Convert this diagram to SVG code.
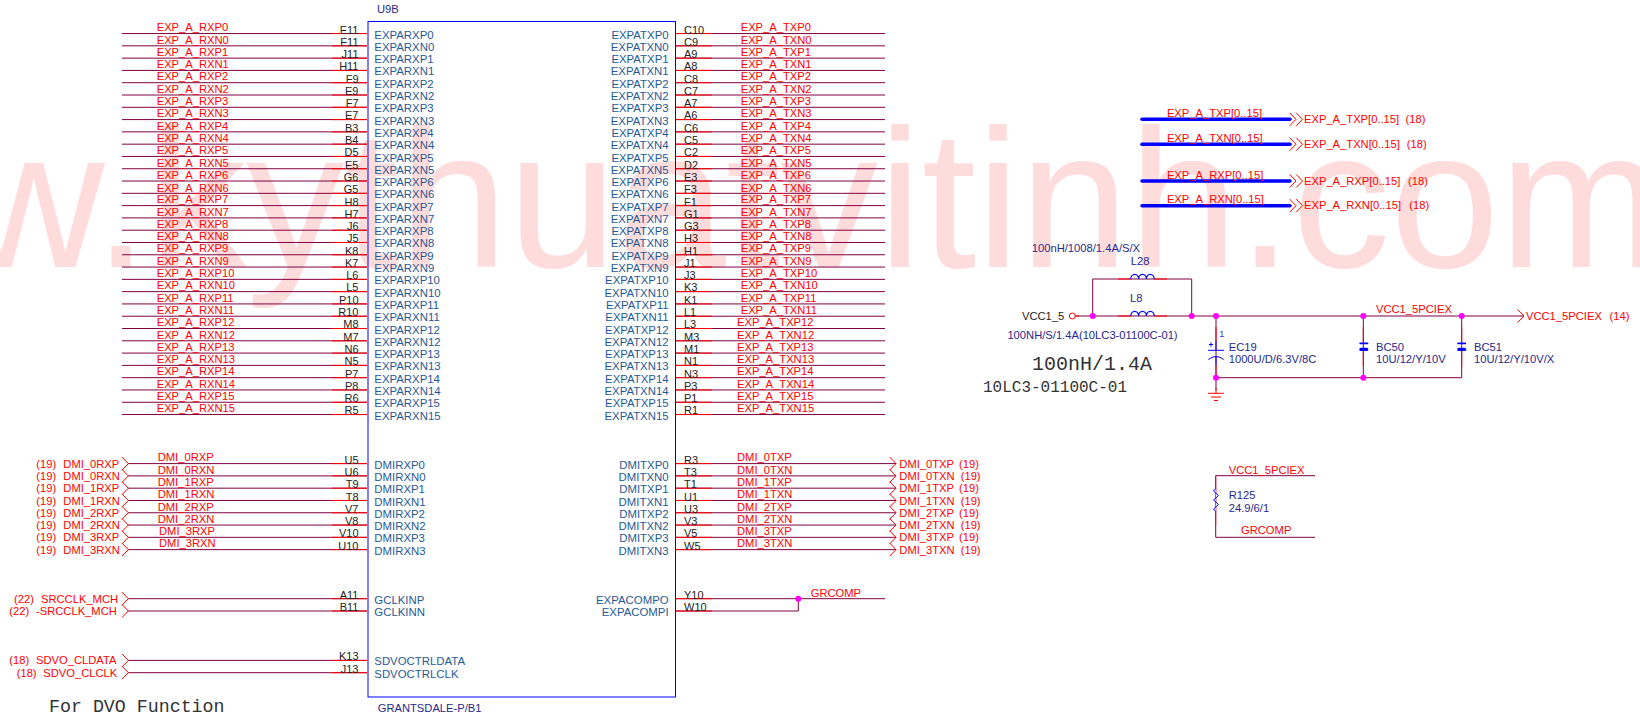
<svg xmlns="http://www.w3.org/2000/svg" width="1640" height="715" viewBox="0 0 1640 715">
<style>
text{font-family:"Liberation Sans",Arial,sans-serif;font-size:11.2px}
.wm{font-size:196px;fill:#ffdcdc}
.net{fill:#ff0000}
.pn{fill:#1f5a96;font-size:11.4px}
.pe{fill:#1f5a96;font-size:11.4px;text-anchor:end}
.nl{fill:#222;font-size:11px;text-anchor:end}
.nr{fill:#222;font-size:11px}
.ref{fill:#28288c}
.dk{fill:#222}
.mono{font-family:"Liberation Mono","DejaVu Sans Mono",monospace;fill:#333}
.w{fill:none;stroke:#800040;stroke-width:1}
.r{fill:none;stroke:#ff0000;stroke-width:1}
.b{fill:none;stroke:#0000ff;stroke-width:1}
.coil{fill:none;stroke:#0000ff;stroke-width:1.2}
.bus{fill:none;stroke:#0000ff;stroke-width:3.5;stroke-linecap:round}
.j{fill:#ff00ff}
.cap{fill:#0000ff}
</style>
<defs>
<path id="chev" class="r" d="M-6.3 -6.5L0 0L-6.3 6.5"/>
<path id="coil" class="coil" d="M0 0a3.9 4.6 0 0 1 7.8 0a3.9 4.6 0 0 1 7.8 0a3.9 4.6 0 0 1 7.8 0"/>
<g id="dbl"><use href="#chev" x="1296"/><use href="#chev" x="1302.5"/></g>
</defs>
<g id="watermark"><text class="wm" x="-320" y="267">www.kythuatvitinh.com</text></g>
<g id="connectors">
<g id="wires-exp-rx">
<path class="w" d="M122 33.55H367"/><path class="w" d="M122 45.84H367"/><path class="w" d="M122 58.13H367"/><path class="w" d="M122 70.42H367"/><path class="w" d="M122 82.71H367"/><path class="w" d="M122 95H367"/><path class="w" d="M122 107.29H367"/><path class="w" d="M122 119.58H367"/><path class="w" d="M122 131.87H367"/><path class="w" d="M122 144.16H367"/><path class="w" d="M122 156.45H367"/><path class="w" d="M122 168.74H367"/><path class="w" d="M122 181.03H367"/><path class="w" d="M122 193.32H367"/><path class="w" d="M122 205.61H367"/><path class="w" d="M122 217.9H367"/><path class="w" d="M122 230.19H367"/><path class="w" d="M122 242.48H367"/><path class="w" d="M122 254.77H367"/><path class="w" d="M122 267.06H367"/><path class="w" d="M122 279.35H367"/><path class="w" d="M122 291.64H367"/><path class="w" d="M122 303.93H367"/><path class="w" d="M122 316.22H367"/><path class="w" d="M122 328.51H367"/><path class="w" d="M122 340.8H367"/><path class="w" d="M122 353.09H367"/><path class="w" d="M122 365.38H367"/><path class="w" d="M122 377.67H367"/><path class="w" d="M122 389.96H367"/><path class="w" d="M122 402.25H367"/><path class="w" d="M122 414.54H367"/>
</g>
<g id="wires-exp-tx">
<path class="w" d="M675 33.55H885"/><path class="w" d="M675 45.84H885"/><path class="w" d="M675 58.13H885"/><path class="w" d="M675 70.42H885"/><path class="w" d="M675 82.71H885"/><path class="w" d="M675 95H885"/><path class="w" d="M675 107.29H885"/><path class="w" d="M675 119.58H885"/><path class="w" d="M675 131.87H885"/><path class="w" d="M675 144.16H885"/><path class="w" d="M675 156.45H885"/><path class="w" d="M675 168.74H885"/><path class="w" d="M675 181.03H885"/><path class="w" d="M675 193.32H885"/><path class="w" d="M675 205.61H885"/><path class="w" d="M675 217.9H885"/><path class="w" d="M675 230.19H885"/><path class="w" d="M675 242.48H885"/><path class="w" d="M675 254.77H885"/><path class="w" d="M675 267.06H885"/><path class="w" d="M675 279.35H885"/><path class="w" d="M675 291.64H885"/><path class="w" d="M675 303.93H885"/><path class="w" d="M675 316.22H885"/><path class="w" d="M675 328.51H885"/><path class="w" d="M675 340.8H885"/><path class="w" d="M675 353.09H885"/><path class="w" d="M675 365.38H885"/><path class="w" d="M675 377.67H885"/><path class="w" d="M675 389.96H885"/><path class="w" d="M675 402.25H885"/><path class="w" d="M675 414.54H885"/>
</g>
<g id="wires-dmi">
<path class="w" d="M128 463.6H367"/><path class="w" d="M128 475.89H367"/><path class="w" d="M128 488.18H367"/><path class="w" d="M128 500.47H367"/><path class="w" d="M128 512.76H367"/><path class="w" d="M128 525.05H367"/><path class="w" d="M128 537.34H367"/><path class="w" d="M128 549.63H367"/>
<path class="w" d="M675 463.6H896"/><path class="w" d="M675 475.89H896"/><path class="w" d="M675 488.18H896"/><path class="w" d="M675 500.47H896"/><path class="w" d="M675 512.76H896"/><path class="w" d="M675 525.05H896"/><path class="w" d="M675 537.34H896"/><path class="w" d="M675 549.63H896"/>
<path class="w" d="M128 598.7H367"/><path class="w" d="M128 611H367"/><path class="w" d="M128 660.4H367"/><path class="w" d="M128 672.7H367"/>
<path class="w" d="M675 598.7H885"/><path class="w" d="M675 611H798.3V598.7"/>
</g>
<path id="pin-stubs-left" class="r" d="M332 33.55H367M332 45.84H367M332 58.13H367M332 70.42H367M332 82.71H367M332 95H367M332 107.29H367M332 119.58H367M332 131.87H367M332 144.16H367M332 156.45H367M332 168.74H367M332 181.03H367M332 193.32H367M332 205.61H367M332 217.9H367M332 230.19H367M332 242.48H367M332 254.77H367M332 267.06H367M332 279.35H367M332 291.64H367M332 303.93H367M332 316.22H367M332 328.51H367M332 340.8H367M332 353.09H367M332 365.38H367M332 377.67H367M332 389.96H367M332 402.25H367M332 414.54H367M332 463.6H367M332 475.89H367M332 488.18H367M332 500.47H367M332 512.76H367M332 525.05H367M332 537.34H367M332 549.63H367M332 598.7H367M332 611H367M332 660.4H367M332 672.7H367"/>
<path id="pin-stubs-right" class="r" d="M675 33.55H712M675 45.84H712M675 58.13H712M675 70.42H712M675 82.71H712M675 95H712M675 107.29H712M675 119.58H712M675 131.87H712M675 144.16H712M675 156.45H712M675 168.74H712M675 181.03H712M675 193.32H712M675 205.61H712M675 217.9H712M675 230.19H712M675 242.48H712M675 254.77H712M675 267.06H712M675 279.35H712M675 291.64H712M675 303.93H712M675 316.22H712M675 328.51H712M675 340.8H712M675 353.09H712M675 365.38H712M675 377.67H712M675 389.96H712M675 402.25H712M675 414.54H712M675 463.6H712M675 475.89H712M675 488.18H712M675 500.47H712M675 512.76H712M675 525.05H712M675 537.34H712M675 549.63H712M675 598.7H712M675 611H712"/>
<g id="chevrons">
<use href="#chev" x="128.3" y="463.6"/><use href="#chev" x="128.3" y="475.89"/><use href="#chev" x="128.3" y="488.18"/><use href="#chev" x="128.3" y="500.47"/><use href="#chev" x="128.3" y="512.76"/><use href="#chev" x="128.3" y="525.05"/><use href="#chev" x="128.3" y="537.34"/><use href="#chev" x="128.3" y="549.63"/>
<use href="#chev" x="128.3" y="598.7"/><use href="#chev" x="128.3" y="611"/><use href="#chev" x="128.3" y="660.4"/><use href="#chev" x="128.3" y="672.7"/>
<use href="#chev" x="896" y="463.6"/><use href="#chev" x="896" y="475.89"/><use href="#chev" x="896" y="488.18"/><use href="#chev" x="896" y="500.47"/><use href="#chev" x="896" y="512.76"/><use href="#chev" x="896" y="525.05"/><use href="#chev" x="896" y="537.34"/><use href="#chev" x="896" y="549.63"/>
</g>
<circle class="j" cx="798.3" cy="598.7" r="3"/>
<g id="buses">
<path class="bus" d="M1142 119.3H1290"/><path class="bus" d="M1142 144.2H1290"/><path class="bus" d="M1142 181H1290"/><path class="bus" d="M1142 205.7H1290"/>
<use href="#dbl" y="119.3"/><use href="#dbl" y="144.2"/><use href="#dbl" y="181"/><use href="#dbl" y="205.7"/>
</g>
<g id="power-wires">
<path class="w" d="M1075 316H1524"/>
<path class="w" d="M1092.7 316V279H1191.7V316"/>
<path class="r" d="M1118 279H1131M1154 279H1167M1075 316H1079M1118 316H1131M1154 316H1167"/>
<path class="w" d="M1216 316V377.7H1461.7V316"/>
<path class="w" d="M1363.3 316V377.7"/>
<path class="r" d="M1216 327V341M1216 365V378M1363.3 327V343M1363.3 351V366M1461.7 327V343M1461.7 351V366"/>
<use href="#chev" x="1524" y="316"/>
<path class="w" d="M1216 377.7V390"/>
<path class="r" d="M1216 388V393.3M1208 393.3H1224M1211 397H1221M1214 400.5H1218"/>
<path class="w" d="M1215.7 475.7V537.3M1215.7 475.7H1315M1215.7 537.3H1315"/>
<path class="r" d="M1215.7 476V525"/>
</g>
</g>
<g id="U9B">
<rect x="368" y="21.5" width="307.5" height="675.5" fill="none" stroke="#0000ff" stroke-width="1"/>
<text class="ref" x="377" y="13">U9B</text>
<text class="ref" x="377.7" y="712">GRANTSDALE-P/B1</text>
<g id="pin-names-left">
<text class="pn" x="374.3" y="39">EXPARXP0</text><text class="pn" x="374.3" y="51">EXPARXN0</text><text class="pn" x="374.3" y="63">EXPARXP1</text><text class="pn" x="374.3" y="75">EXPARXN1</text><text class="pn" x="374.3" y="88">EXPARXP2</text><text class="pn" x="374.3" y="100">EXPARXN2</text><text class="pn" x="374.3" y="112">EXPARXP3</text><text class="pn" x="374.3" y="125">EXPARXN3</text><text class="pn" x="374.3" y="137">EXPARXP4</text><text class="pn" x="374.3" y="149">EXPARXN4</text><text class="pn" x="374.3" y="162">EXPARXP5</text><text class="pn" x="374.3" y="174">EXPARXN5</text><text class="pn" x="374.3" y="186">EXPARXP6</text><text class="pn" x="374.3" y="198">EXPARXN6</text><text class="pn" x="374.3" y="211">EXPARXP7</text><text class="pn" x="374.3" y="223">EXPARXN7</text><text class="pn" x="374.3" y="235">EXPARXP8</text><text class="pn" x="374.3" y="247">EXPARXN8</text><text class="pn" x="374.3" y="260">EXPARXP9</text><text class="pn" x="374.3" y="272">EXPARXN9</text><text class="pn" x="374.3" y="284">EXPARXP10</text><text class="pn" x="374.3" y="297">EXPARXN10</text><text class="pn" x="374.3" y="309">EXPARXP11</text><text class="pn" x="374.3" y="321">EXPARXN11</text><text class="pn" x="374.3" y="334">EXPARXP12</text><text class="pn" x="374.3" y="346">EXPARXN12</text><text class="pn" x="374.3" y="358">EXPARXP13</text><text class="pn" x="374.3" y="370">EXPARXN13</text><text class="pn" x="374.3" y="383">EXPARXP14</text><text class="pn" x="374.3" y="395">EXPARXN14</text><text class="pn" x="374.3" y="407">EXPARXP15</text><text class="pn" x="374.3" y="420">EXPARXN15</text>
<text class="pn" x="374.3" y="469">DMIRXP0</text><text class="pn" x="374.3" y="481">DMIRXN0</text><text class="pn" x="374.3" y="493">DMIRXP1</text><text class="pn" x="374.3" y="506">DMIRXN1</text><text class="pn" x="374.3" y="518">DMIRXP2</text><text class="pn" x="374.3" y="530">DMIRXN2</text><text class="pn" x="374.3" y="542">DMIRXP3</text><text class="pn" x="374.3" y="555">DMIRXN3</text>
<text class="pn" x="374.3" y="604">GCLKINP</text><text class="pn" x="374.3" y="616">GCLKINN</text><text class="pn" x="374.3" y="665">SDVOCTRLDATA</text><text class="pn" x="374.3" y="678">SDVOCTRLCLK</text>
</g>
<g id="pin-names-right">
<text class="pe" x="668.6" y="39">EXPATXP0</text><text class="pe" x="668.6" y="51">EXPATXN0</text><text class="pe" x="668.6" y="63">EXPATXP1</text><text class="pe" x="668.6" y="75">EXPATXN1</text><text class="pe" x="668.6" y="88">EXPATXP2</text><text class="pe" x="668.6" y="100">EXPATXN2</text><text class="pe" x="668.6" y="112">EXPATXP3</text><text class="pe" x="668.6" y="125">EXPATXN3</text><text class="pe" x="668.6" y="137">EXPATXP4</text><text class="pe" x="668.6" y="149">EXPATXN4</text><text class="pe" x="668.6" y="162">EXPATXP5</text><text class="pe" x="668.6" y="174">EXPATXN5</text><text class="pe" x="668.6" y="186">EXPATXP6</text><text class="pe" x="668.6" y="198">EXPATXN6</text><text class="pe" x="668.6" y="211">EXPATXP7</text><text class="pe" x="668.6" y="223">EXPATXN7</text><text class="pe" x="668.6" y="235">EXPATXP8</text><text class="pe" x="668.6" y="247">EXPATXN8</text><text class="pe" x="668.6" y="260">EXPATXP9</text><text class="pe" x="668.6" y="272">EXPATXN9</text><text class="pe" x="668.6" y="284">EXPATXP10</text><text class="pe" x="668.6" y="297">EXPATXN10</text><text class="pe" x="668.6" y="309">EXPATXP11</text><text class="pe" x="668.6" y="321">EXPATXN11</text><text class="pe" x="668.6" y="334">EXPATXP12</text><text class="pe" x="668.6" y="346">EXPATXN12</text><text class="pe" x="668.6" y="358">EXPATXP13</text><text class="pe" x="668.6" y="370">EXPATXN13</text><text class="pe" x="668.6" y="383">EXPATXP14</text><text class="pe" x="668.6" y="395">EXPATXN14</text><text class="pe" x="668.6" y="407">EXPATXP15</text><text class="pe" x="668.6" y="420">EXPATXN15</text>
<text class="pe" x="668.6" y="469">DMITXP0</text><text class="pe" x="668.6" y="481">DMITXN0</text><text class="pe" x="668.6" y="493">DMITXP1</text><text class="pe" x="668.6" y="506">DMITXN1</text><text class="pe" x="668.6" y="518">DMITXP2</text><text class="pe" x="668.6" y="530">DMITXN2</text><text class="pe" x="668.6" y="542">DMITXP3</text><text class="pe" x="668.6" y="555">DMITXN3</text>
<text class="pe" x="668.6" y="604">EXPACOMPO</text><text class="pe" x="668.6" y="616">EXPACOMPI</text>
</g>
<g id="pin-numbers-left">
<text class="nl" x="358.5" y="34">E11</text><text class="nl" x="358.5" y="46">F11</text><text class="nl" x="358.5" y="58">J11</text><text class="nl" x="358.5" y="70">H11</text><text class="nl" x="358.5" y="83">F9</text><text class="nl" x="358.5" y="95">E9</text><text class="nl" x="358.5" y="107">F7</text><text class="nl" x="358.5" y="119">E7</text><text class="nl" x="358.5" y="132">B3</text><text class="nl" x="358.5" y="144">B4</text><text class="nl" x="358.5" y="156">D5</text><text class="nl" x="358.5" y="169">E5</text><text class="nl" x="358.5" y="181">G6</text><text class="nl" x="358.5" y="193">G5</text><text class="nl" x="358.5" y="206">H8</text><text class="nl" x="358.5" y="218">H7</text><text class="nl" x="358.5" y="230">J6</text><text class="nl" x="358.5" y="242">J5</text><text class="nl" x="358.5" y="255">K8</text><text class="nl" x="358.5" y="267">K7</text><text class="nl" x="358.5" y="279">L6</text><text class="nl" x="358.5" y="291">L5</text><text class="nl" x="358.5" y="304">P10</text><text class="nl" x="358.5" y="316">R10</text><text class="nl" x="358.5" y="328">M8</text><text class="nl" x="358.5" y="341">M7</text><text class="nl" x="358.5" y="353">N6</text><text class="nl" x="358.5" y="365">N5</text><text class="nl" x="358.5" y="378">P7</text><text class="nl" x="358.5" y="390">P8</text><text class="nl" x="358.5" y="402">R6</text><text class="nl" x="358.5" y="414">R5</text>
<text class="nl" x="358.5" y="464">U5</text><text class="nl" x="358.5" y="476">U6</text><text class="nl" x="358.5" y="488">T9</text><text class="nl" x="358.5" y="501">T8</text><text class="nl" x="358.5" y="513">V7</text><text class="nl" x="358.5" y="525">V8</text><text class="nl" x="358.5" y="537">V10</text><text class="nl" x="358.5" y="550">U10</text>
<text class="nl" x="358.5" y="599">A11</text><text class="nl" x="358.5" y="611">B11</text><text class="nl" x="358.5" y="660">K13</text><text class="nl" x="358.5" y="673">J13</text>
</g>
<g id="pin-numbers-right">
<text class="nr" x="684" y="34">C10</text><text class="nr" x="684" y="46">C9</text><text class="nr" x="684" y="58">A9</text><text class="nr" x="684" y="70">A8</text><text class="nr" x="684" y="83">C8</text><text class="nr" x="684" y="95">C7</text><text class="nr" x="684" y="107">A7</text><text class="nr" x="684" y="119">A6</text><text class="nr" x="684" y="132">C6</text><text class="nr" x="684" y="144">C5</text><text class="nr" x="684" y="156">C2</text><text class="nr" x="684" y="169">D2</text><text class="nr" x="684" y="181">E3</text><text class="nr" x="684" y="193">F3</text><text class="nr" x="684" y="206">F1</text><text class="nr" x="684" y="218">G1</text><text class="nr" x="684" y="230">G3</text><text class="nr" x="684" y="242">H3</text><text class="nr" x="684" y="255">H1</text><text class="nr" x="684" y="267">J1</text><text class="nr" x="684" y="279">J3</text><text class="nr" x="684" y="291">K3</text><text class="nr" x="684" y="304">K1</text><text class="nr" x="684" y="316">L1</text><text class="nr" x="684" y="328">L3</text><text class="nr" x="684" y="341">M3</text><text class="nr" x="684" y="353">M1</text><text class="nr" x="684" y="365">N1</text><text class="nr" x="684" y="378">N3</text><text class="nr" x="684" y="390">P3</text><text class="nr" x="684" y="402">P1</text><text class="nr" x="684" y="414">R1</text>
<text class="nr" x="684" y="464">R3</text><text class="nr" x="684" y="476">T3</text><text class="nr" x="684" y="488">T1</text><text class="nr" x="684" y="501">U1</text><text class="nr" x="684" y="513">U3</text><text class="nr" x="684" y="525">V3</text><text class="nr" x="684" y="537">V5</text><text class="nr" x="684" y="550">W5</text>
<text class="nr" x="684" y="599">Y10</text><text class="nr" x="684" y="611">W10</text>
</g>
</g>
<g id="net-labels-rx">
<text class="net" x="156.7" y="31">EXP_A_RXP0</text><text class="net" x="156.7" y="44">EXP_A_RXN0</text><text class="net" x="156.7" y="56">EXP_A_RXP1</text><text class="net" x="156.7" y="68">EXP_A_RXN1</text><text class="net" x="156.7" y="80">EXP_A_RXP2</text><text class="net" x="156.7" y="93">EXP_A_RXN2</text><text class="net" x="156.7" y="105">EXP_A_RXP3</text><text class="net" x="156.7" y="117">EXP_A_RXN3</text><text class="net" x="156.7" y="130">EXP_A_RXP4</text><text class="net" x="156.7" y="142">EXP_A_RXN4</text><text class="net" x="156.7" y="154">EXP_A_RXP5</text><text class="net" x="156.7" y="167">EXP_A_RXN5</text><text class="net" x="156.7" y="179">EXP_A_RXP6</text><text class="net" x="156.7" y="192">EXP_A_RXN6</text><text class="net" x="156.7" y="203">EXP_A_RXP7</text><text class="net" x="156.7" y="216">EXP_A_RXN7</text><text class="net" x="156.7" y="228">EXP_A_RXP8</text><text class="net" x="156.7" y="240">EXP_A_RXN8</text><text class="net" x="156.7" y="252">EXP_A_RXP9</text><text class="net" x="156.7" y="265">EXP_A_RXN9</text><text class="net" x="156.7" y="277">EXP_A_RXP10</text><text class="net" x="156.7" y="289">EXP_A_RXN10</text><text class="net" x="156.7" y="302">EXP_A_RXP11</text><text class="net" x="156.7" y="314">EXP_A_RXN11</text><text class="net" x="156.7" y="326">EXP_A_RXP12</text><text class="net" x="156.7" y="339">EXP_A_RXN12</text><text class="net" x="156.7" y="351">EXP_A_RXP13</text><text class="net" x="156.7" y="363">EXP_A_RXN13</text><text class="net" x="156.7" y="375">EXP_A_RXP14</text><text class="net" x="156.7" y="388">EXP_A_RXN14</text><text class="net" x="156.7" y="400">EXP_A_RXP15</text><text class="net" x="156.7" y="412">EXP_A_RXN15</text>
</g>
<g id="net-labels-tx">
<text class="net" x="740.7" y="31">EXP_A_TXP0</text><text class="net" x="740.7" y="44">EXP_A_TXN0</text><text class="net" x="740.7" y="56">EXP_A_TXP1</text><text class="net" x="740.7" y="68">EXP_A_TXN1</text><text class="net" x="740.7" y="80">EXP_A_TXP2</text><text class="net" x="740.7" y="93">EXP_A_TXN2</text><text class="net" x="740.7" y="105">EXP_A_TXP3</text><text class="net" x="740.7" y="117">EXP_A_TXN3</text><text class="net" x="740.7" y="130">EXP_A_TXP4</text><text class="net" x="740.7" y="142">EXP_A_TXN4</text><text class="net" x="740.7" y="154">EXP_A_TXP5</text><text class="net" x="740.7" y="167">EXP_A_TXN5</text><text class="net" x="740.7" y="179">EXP_A_TXP6</text><text class="net" x="740.7" y="192">EXP_A_TXN6</text><text class="net" x="740.7" y="203">EXP_A_TXP7</text><text class="net" x="740.7" y="216">EXP_A_TXN7</text><text class="net" x="740.7" y="228">EXP_A_TXP8</text><text class="net" x="740.7" y="240">EXP_A_TXN8</text><text class="net" x="740.7" y="252">EXP_A_TXP9</text><text class="net" x="740.7" y="265">EXP_A_TXN9</text><text class="net" x="740.7" y="277">EXP_A_TXP10</text><text class="net" x="740.7" y="289">EXP_A_TXN10</text><text class="net" x="740.7" y="302">EXP_A_TXP11</text><text class="net" x="740.7" y="314">EXP_A_TXN11</text><text class="net" x="737" y="326">EXP_A_TXP12</text><text class="net" x="737" y="339">EXP_A_TXN12</text><text class="net" x="737" y="351">EXP_A_TXP13</text><text class="net" x="737" y="363">EXP_A_TXN13</text><text class="net" x="737" y="375">EXP_A_TXP14</text><text class="net" x="737" y="388">EXP_A_TXN14</text><text class="net" x="737" y="400">EXP_A_TXP15</text><text class="net" x="737" y="412">EXP_A_TXN15</text>
</g>
<g id="dmi-labels">
<text class="net" x="157.7" y="461">DMI_0RXP</text><text class="net" x="157.7" y="474">DMI_0RXN</text><text class="net" x="157.7" y="486">DMI_1RXP</text><text class="net" x="157.7" y="498">DMI_1RXN</text><text class="net" x="157.7" y="511">DMI_2RXP</text><text class="net" x="157.7" y="523">DMI_2RXN</text><text class="net" x="159" y="535">DMI_3RXP</text><text class="net" x="159" y="547">DMI_3RXN</text>
<text class="net" x="737" y="461">DMI_0TXP</text><text class="net" x="737" y="474">DMI_0TXN</text><text class="net" x="737" y="486">DMI_1TXP</text><text class="net" x="737" y="498">DMI_1TXN</text><text class="net" x="737" y="511">DMI_2TXP</text><text class="net" x="737" y="523">DMI_2TXN</text><text class="net" x="737" y="535">DMI_3TXP</text><text class="net" x="737" y="547">DMI_3TXN</text>
<text class="net" x="810.7" y="597">GRCOMP</text>
</g>
<g id="off-page-left">
<text class="net" x="36.3" y="468">(19)</text><text class="net" x="63.3" y="468">DMI_0RXP</text>
<text class="net" x="36.3" y="480">(19)</text><text class="net" x="63.3" y="480">DMI_0RXN</text>
<text class="net" x="36.3" y="492">(19)</text><text class="net" x="63.3" y="492">DMI_1RXP</text>
<text class="net" x="36.3" y="505">(19)</text><text class="net" x="63.3" y="505">DMI_1RXN</text>
<text class="net" x="36.3" y="517">(19)</text><text class="net" x="63.3" y="517">DMI_2RXP</text>
<text class="net" x="36.3" y="529">(19)</text><text class="net" x="63.3" y="529">DMI_2RXN</text>
<text class="net" x="36.3" y="541">(19)</text><text class="net" x="63.3" y="541">DMI_3RXP</text>
<text class="net" x="36.3" y="554">(19)</text><text class="net" x="63.3" y="554">DMI_3RXN</text>
<text class="net" x="14" y="603">(22)</text><text class="net" x="41" y="603">SRCCLK_MCH</text>
<text class="net" x="9.3" y="615">(22)</text><text class="net" x="36" y="615">-SRCCLK_MCH</text>
<text class="net" x="9.3" y="664">(18)</text><text class="net" x="36" y="664">SDVO_CLDATA</text>
<text class="net" x="16.7" y="677">(18)</text><text class="net" x="43.3" y="677">SDVO_CLCLK</text>
<text class="mono" x="49" y="712" style="font-size:18.3px">For DVO Function</text>
</g>
<g id="off-page-right">
<text class="net" x="899.3" y="468">DMI_0TXP</text><text class="net" x="959" y="468">(19)</text>
<text class="net" x="899.3" y="480">DMI_0TXN</text><text class="net" x="960.7" y="480">(19)</text>
<text class="net" x="899.3" y="492">DMI_1TXP</text><text class="net" x="959" y="492">(19)</text>
<text class="net" x="899.3" y="505">DMI_1TXN</text><text class="net" x="960.7" y="505">(19)</text>
<text class="net" x="899.3" y="517">DMI_2TXP</text><text class="net" x="959" y="517">(19)</text>
<text class="net" x="899.3" y="529">DMI_2TXN</text><text class="net" x="960.7" y="529">(19)</text>
<text class="net" x="899.3" y="541">DMI_3TXP</text><text class="net" x="959" y="541">(19)</text>
<text class="net" x="899.3" y="554">DMI_3TXN</text><text class="net" x="960.7" y="554">(19)</text>
</g>
<g id="bus-labels">
<text class="net" x="1166.9" y="117">EXP_A_TXP[0..15]</text><text class="net" x="1166.9" y="142">EXP_A_TXN[0..15]</text><text class="net" x="1166.9" y="179">EXP_A_RXP[0..15]</text><text class="net" x="1166.9" y="203">EXP_A_RXN[0..15]</text>
<text class="net" x="1304" y="123">EXP_A_TXP[0..15]</text><text class="net" x="1405.5" y="123">(18)</text>
<text class="net" x="1304" y="148">EXP_A_TXN[0..15]</text><text class="net" x="1406.8" y="148">(18)</text>
<text class="net" x="1304" y="185">EXP_A_RXP[0..15]</text><text class="net" x="1408" y="185">(18)</text>
<text class="net" x="1304" y="209">EXP_A_RXN[0..15]</text><text class="net" x="1409.3" y="209">(18)</text>
</g>
<g id="VCC1_5">
<circle cx="1072.3" cy="316" r="3" fill="#fff" stroke="#ff0000" stroke-width="1"/>
<text class="dk" x="1022" y="320">VCC1_5</text>
</g>
<g id="L28">
<use href="#coil" x="1130.8" y="279"/>
<text class="ref" x="1130.7" y="265">L28</text>
<text class="ref" x="1031.8" y="252">100nH/1008/1.4A/S/X</text>
</g>
<g id="L8">
<use href="#coil" x="1130.8" y="316"/>
<text class="ref" x="1130" y="302">L8</text>
<text class="ref" x="1007.4" y="339">100NH/S/1.4A(10LC3-01100C-01)</text>
</g>
<g id="notes">
<text class="mono" x="1032" y="369.5" style="font-size:20px">100nH/1.4A</text>
<text class="mono" x="983" y="391.5" style="font-size:16px">10LC3-01100C-01</text>
</g>
<g id="EC19">
<path class="b" d="M1216 341V350.3M1208 350.3H1224M1209 344.5H1213M1211 342.5V346.5M1216 357V365"/>
<path class="b" stroke-width="1.5" d="M1208.3 359.5Q1216 353.5 1223.7 359.5"/>
<text x="1219.3" y="336.7" style="font-size:9px;fill:#3030e0">1</text>
<text class="ref" x="1228.7" y="350.7">EC19</text>
<text class="ref" x="1228.7" y="362.7">1000U/D/6.3V/8C</text>
</g>
<g id="BC50">
<rect class="cap" x="1359.3" y="342.6" width="9" height="1.6" rx=".8"/>
<rect class="cap" x="1359.3" y="347.7" width="9" height="3.3" rx="1.6"/>
<text class="ref" x="1376" y="350.7">BC50</text>
<text class="ref" x="1376" y="362.7">10U/12/Y/10V</text>
</g>
<g id="BC51">
<rect class="cap" x="1457.2" y="342.6" width="9" height="1.6" rx=".8"/>
<rect class="cap" x="1457.2" y="347.7" width="9" height="3.3" rx="1.6"/>
<text class="ref" x="1474" y="350.7">BC51</text>
<text class="ref" x="1474" y="362.7">10U/12/Y/10V/X</text>
</g>
<g id="power-junctions">
<circle class="j" cx="1092.7" cy="316" r="3"/><circle class="j" cx="1191.7" cy="316" r="3"/><circle class="j" cx="1216" cy="316" r="3"/><circle class="j" cx="1363.3" cy="316" r="3"/><circle class="j" cx="1461.7" cy="316" r="3"/><circle class="j" cx="1216" cy="377.7" r="3"/><circle class="j" cx="1363.3" cy="377.7" r="3"/>
</g>
<g id="power-labels">
<text class="net" x="1376" y="313">VCC1_5PCIEX</text>
<text class="net" x="1526" y="320">VCC1_5PCIEX</text><text class="net" x="1609.6" y="320">(14)</text>
</g>
<g id="R125">
<path d="M1215.7 488.5L1213.5 491L1218.5 495.5L1213.5 500L1218.5 504.5L1213.5 509L1215.7 511.5" fill="#fff" stroke="#0000ff" stroke-width="1"/>
<text class="net" x="1228.7" y="474">VCC1_5PCIEX</text>
<text class="ref" x="1228.7" y="498.5">R125</text>
<text class="ref" x="1228.7" y="511.5">24.9/6/1</text>
<text class="net" x="1241" y="534">GRCOMP</text>
</g>
</svg>
